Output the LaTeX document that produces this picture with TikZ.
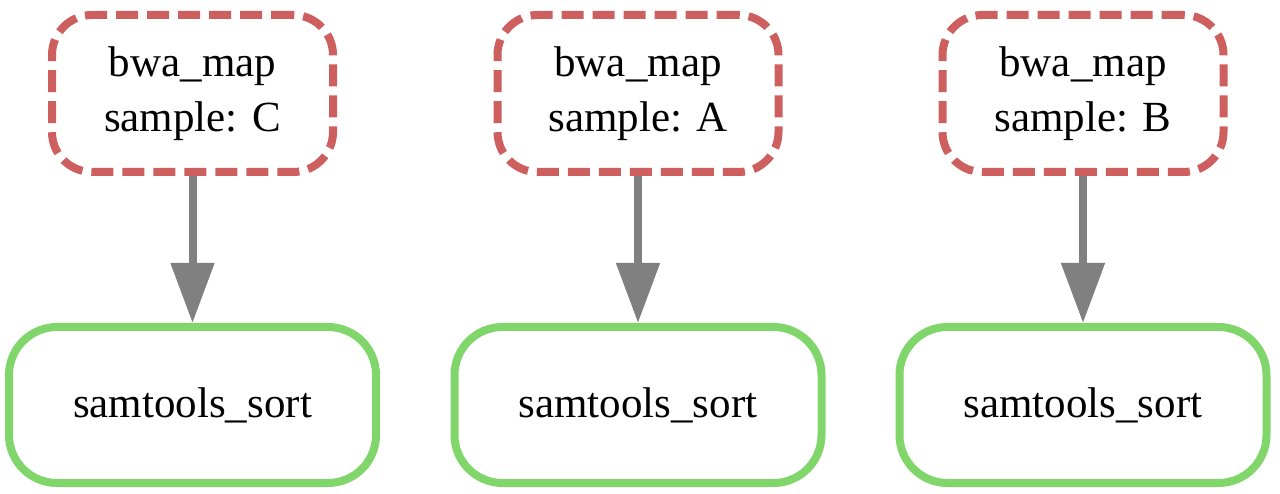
\documentclass[tikz,border=0pt]{standalone}
\usepackage{fontspec}
\setmainfont{Liberation Serif}
\usetikzlibrary{arrows.meta}
\definecolor{jobred}{RGB}{205,95,95}
\definecolor{jobgreen}{RGB}{128,214,106}
\definecolor{edgegray}{RGB}{128,128,128}
\tikzset{
  mapbox/.style={draw=jobred, line width=8pt, dash pattern=on 22pt off 9pt,
    rounded corners=40pt, minimum width=281pt, minimum height=157pt,
    inner sep=0pt, align=center, font=\fontsize{43}{55}\selectfont},
  sortbox/.style={draw=jobgreen, line width=8pt,
    rounded corners=48pt, minimum width=367pt, minimum height=156pt,
    inner sep=0pt, align=center, font=\fontsize{43}{55}\selectfont},
  flow/.style={draw=edgegray, line width=8pt,
    -{Triangle[width=42pt,length=60pt]}}
}
\begin{document}
\begin{tikzpicture}[x=1pt,y=-1pt]
\useasboundingbox (0,0) rectangle (1280,494);
\node[mapbox] (mC) at (192.5,93.5) {bwa\_map\\sample: C};
\node[mapbox] (mA) at (638,93.5) {bwa\_map\\sample: A};
\node[mapbox] (mB) at (1083,93.5) {bwa\_map\\sample: B};
\node[sortbox] (sC) at (192.5,405) {samtools\_sort};
\node[sortbox] (sA) at (638,405) {samtools\_sort};
\node[sortbox] (sB) at (1083,405) {samtools\_sort};
\draw[flow] (mC) -- (sC);
\draw[flow] (mA) -- (sA);
\draw[flow] (mB) -- (sB);
\end{tikzpicture}
\end{document}
